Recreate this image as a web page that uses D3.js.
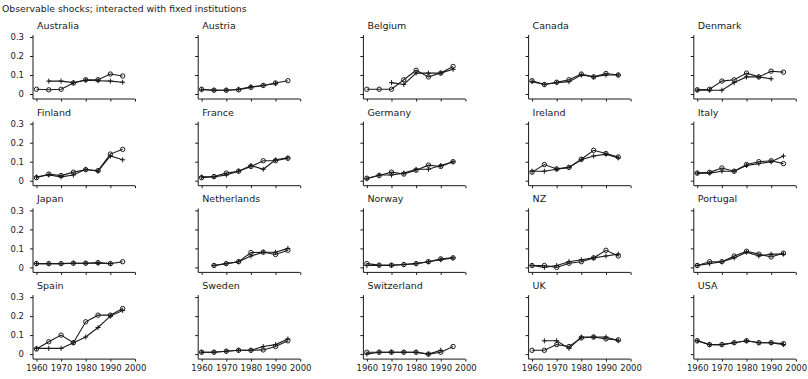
<!DOCTYPE html>
<html><head><meta charset="utf-8">
<script src="https://cdn.jsdelivr.net/npm/d3@7"></script>
<style>
body{margin:0;background:#fff}
text{font-family:"DejaVu Sans",Verdana,sans-serif;fill:#1a1a1a}
</style>
</head><body>
<svg id="chart" width="808" height="379"></svg>
<script>
// Five-year observation points
const years = [1960, 1965, 1970, 1975, 1980, 1985, 1990, 1995];
const countries = ["Australia","Austria","Belgium","Canada","Denmark",
                   "Finland","France","Germany","Ireland","Italy",
                   "Japan","Netherlands","Norway","NZ","Portugal",
                   "Spain","Sweden","Switzerland","UK","USA"];
// Actual series (open circles), one row per country
const actual = [
  [0.025,0.022,0.025,0.058,0.075,0.075,0.105,0.095],
  [0.025,0.020,0.020,0.022,0.035,0.045,0.058,0.070],
  [0.025,0.025,0.025,0.075,0.125,0.090,0.110,0.145],
  [0.070,0.050,0.062,0.075,0.105,0.090,0.108,0.100],
  [0.022,0.025,0.068,0.075,0.110,0.090,0.120,0.115],
  [0.016,0.035,0.027,0.045,0.058,0.053,0.140,0.165],
  [0.016,0.022,0.040,0.050,0.075,0.105,0.105,0.118],
  [0.013,0.027,0.045,0.035,0.055,0.082,0.075,0.100],
  [0.045,0.085,0.062,0.070,0.113,0.160,0.143,0.125],
  [0.040,0.044,0.067,0.050,0.085,0.100,0.105,0.090],
  [0.020,0.020,0.020,0.022,0.022,0.025,0.020,0.030],
  [null,0.010,0.020,0.030,0.078,0.080,0.068,0.090],
  [0.020,0.012,0.012,0.015,0.020,0.030,0.045,0.050],
  [0.010,0.010,0.000,0.022,0.030,0.050,0.090,0.060],
  [0.010,0.030,0.030,0.060,0.085,0.070,0.055,0.075],
  [0.027,0.065,0.100,0.060,0.170,0.205,0.205,0.240],
  [0.010,0.010,0.015,0.020,0.020,0.022,0.040,0.070],
  [0.010,0.010,0.010,0.010,0.010,0.000,0.010,0.040],
  [0.020,0.020,0.050,0.040,0.085,0.090,0.080,0.075],
  [0.070,0.050,0.050,0.060,0.070,0.060,0.060,0.055]
];
// Fitted series (plus markers), one row per country
const fitted = [
  [null,0.068,0.068,0.060,0.072,0.070,0.068,0.062],
  [0.022,0.020,0.020,0.025,0.038,0.045,0.055,null],
  [null,null,0.060,0.050,0.110,0.110,0.110,0.130],
  [0.065,0.050,0.060,0.065,0.100,0.090,0.100,0.100],
  [0.020,0.020,0.020,0.060,0.090,0.090,0.080,null],
  [0.020,0.030,0.020,0.030,0.060,0.050,0.130,0.110],
  [0.020,0.020,0.030,0.050,0.080,0.060,0.110,0.120],
  [0.010,0.030,0.030,0.040,0.060,0.060,0.080,0.100],
  [0.050,0.050,0.060,0.070,0.110,0.130,0.140,0.120],
  [0.040,0.040,0.050,0.050,0.080,0.090,0.100,0.130],
  [0.020,0.020,0.020,0.022,0.022,0.022,0.020,null],
  [null,0.010,0.020,0.030,0.060,0.080,0.080,0.100],
  [0.010,0.010,0.010,0.015,0.020,0.030,0.040,0.050],
  [0.010,0.000,0.010,0.030,0.040,0.050,0.060,0.070],
  [0.010,0.020,0.030,0.050,0.080,0.060,0.070,0.070],
  [0.030,0.030,0.030,0.060,0.090,0.140,0.200,0.230],
  [0.010,0.010,0.015,0.020,0.020,0.040,0.050,0.080],
  [0.000,0.010,0.010,0.010,0.010,0.000,0.020,null],
  [null,0.070,0.070,0.030,0.090,0.090,0.090,0.070],
  [0.070,0.050,0.050,0.060,0.070,0.060,0.060,0.050]
];
const yTicks = [0, 0.1, 0.2, 0.3];
const xTicks = [1960, 1970, 1980, 1990, 2000];

const svg = d3.select("#chart");
svg.append("text")
  .attr("x", 2).attr("y", 12)
  .style("font-size", "9.3px")
  .text("Observable shocks; interacted with fixed institutions");

const colX0 = 33, colStep = 165.2, rowY0 = 37, rowStep = 86.7;
const plotW = 102, plotH = 57, gap = 5;
const ink = "#1a1a1a";

countries.forEach((name, i) => {
  const c = i % 5, r = Math.floor(i / 5);
  const g = svg.append("g")
    .attr("transform", `translate(${colX0 + c * colStep},${rowY0 + r * rowStep})`);
  const x = d3.scaleLinear().domain([1958.6, 2000]).range([0, plotW]);
  const y = d3.scaleLinear().domain([0, 0.3]).range([plotH, 0]);

  g.append("text").attr("x", 4).attr("y", -8)
    .style("font-size", "9.5px").text(name);

  // y axis: runs from the top tick down to the offset x axis
  const ya = g.append("g").call(d3.axisLeft(y).tickValues(yTicks).tickSize(3)
      .tickFormat(c === 0 ? (d => d === 0 ? "0" : d3.format(".1f")(d)) : () => ""));
  ya.select(".domain").attr("d", `M0,${y(0.3) - 2}V${plotH + gap}`).attr("stroke", ink);
  ya.selectAll(".tick line").attr("stroke", ink);
  ya.selectAll("text").style("font-size", "8.5px").attr("x", -9).attr("fill", ink);

  // x axis below the zero line
  const xa = g.append("g").attr("transform", `translate(0,${plotH + gap})`)
    .call(d3.axisBottom(x).tickValues(xTicks).tickSize(2.5)
      .tickFormat(r === 3 ? d3.format("d") : () => ""));
  xa.select(".domain").attr("d", `M0,0H${x(2000)}`).attr("stroke", ink);
  xa.selectAll(".tick line").attr("stroke", ink);
  xa.selectAll("text").style("font-size", "8.5px").attr("y", 6).attr("fill", ink);

  const line = d3.line().defined(d => d[1] != null)
    .x(d => x(d[0])).y(d => y(d[1]));

  const fPts = years.map((yr, k) => [yr, fitted[i][k]]);
  const aPts = years.map((yr, k) => [yr, actual[i][k]]);

  g.append("path").datum(fPts).attr("d", line)
    .attr("fill", "none").attr("stroke", ink).attr("stroke-width", 1.1);
  g.append("path").datum(aPts).attr("d", line)
    .attr("fill", "none").attr("stroke", ink).attr("stroke-width", 1.1);

  // plus markers
  g.selectAll(".plus").data(fPts.filter(d => d[1] != null)).enter()
    .append("path").attr("class", "plus")
    .attr("d", d => `M${x(d[0]) - 2.5},${y(d[1])}h5M${x(d[0])},${y(d[1]) - 2.5}v5`)
    .attr("stroke", ink).attr("stroke-width", 1);

  // open circle markers
  g.selectAll(".dot").data(aPts.filter(d => d[1] != null)).enter()
    .append("circle").attr("class", "dot")
    .attr("cx", d => x(d[0])).attr("cy", d => y(d[1])).attr("r", 2.2)
    .attr("fill", "none")
    .attr("stroke", ink).attr("stroke-width", 1);
});
</script>
</body></html>
